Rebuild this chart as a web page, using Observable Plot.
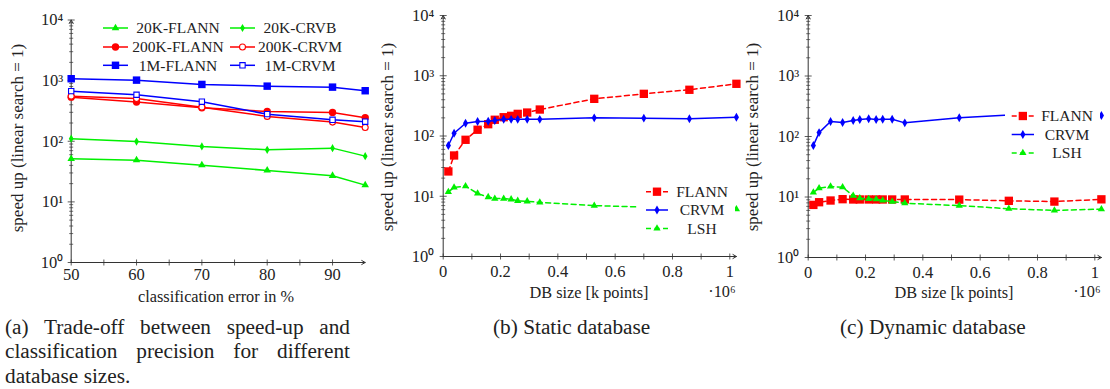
<!DOCTYPE html>
<html><head><meta charset="utf-8">
<script src="https://cdn.jsdelivr.net/npm/d3@7"></script>
<script src="https://cdn.jsdelivr.net/npm/@observablehq/plot@0.6"></script>
<style>
body{margin:0;background:#fff;}
#root{position:relative;width:1110px;height:389px;overflow:hidden;font-family:"Liberation Serif",serif;color:#222;background:#fff;}
#root svg.plot{position:absolute;top:0;}
.ylab{position:absolute;transform:translate(-50%,-50%) rotate(-90deg);font-size:17px;line-height:1;white-space:nowrap;}
.xlab{position:absolute;transform:translate(-50%,-50%);font-size:16.3px;line-height:1;white-space:nowrap;}
.cap{position:absolute;font-size:21.3px;line-height:24.5px;}
.nw{white-space:nowrap;}
.just{text-align:justify;text-align-last:justify;width:345px;}
</style></head><body><div id="root"></div><script>
// ---------- data: panel (a) ----------
const errorPct = [50, 60, 70, 80, 90, 95];
const a20kFlann  = [51.4, 48.8, 40.3, 33, 27, 18.9];
const a20kCrvb   = [110, 99, 82, 72.4, 77, 56.8];
const a200kFlann = [534, 442, 357, 310, 299, 244];
const a200kCrvm  = [555, 508, 365, 257, 207, 169];
const a1mFlann   = [1075, 1019, 865, 811, 781, 681];
const a1mCrvm    = [671, 585, 449, 280, 226, 210];
// ---------- data: panels (b), (c) ----------
const dbSizes = [18e3, 38e3, 78e3, 120e3, 157e3, 180e3, 211e3, 237e3, 260e3, 293e3, 337e3, 527e3, 700e3, 859e3, 1023e3];
const staticFlann = [25.8, 47.5, 86.5, 127, 157, 186, 205, 216, 233, 245, 275, 414, 501, 585, 735];
const staticCrvm  = [69.5, 111, 163, 174, 176, 181, 190, 189, 189, 189, 189, 200, 198, 193, 205];
const staticLsh   = [11.8, 14, 14.7, 11.1, 9.7, 9.15, 9.15, 8.9, 8.4, 8.25, 7.9, 7.0, 6.6, 6.2, 6.1];
const dynFlann = [7.4, 8.2, 8.75, 9.2, 9.1, 9.1, 9.1, 9.1, 9.1, 9.1, 9.1, 9.05, 8.65, 8.4, 9.15];
const dynCrvm  = [71, 116, 177, 170, 184, 191, 196, 191, 193, 193, 168, 204, 226, 220, 222];
const dynLsh   = [11.9, 14, 14.9, 14.5, 10.5, 9.55, 9.3, 9.2, 8.75, 8.4, 7.9, 7.2, 6.4, 6.0, 6.3];
// ---------- ticks ----------
const yMajorTicks = [1, 10, 100, 1000, 10000];
const yTickLabels = ["10⁰", "10¹", "10²", "10³", "10⁴"];
const yMinorTicks = [2,3,4,5,6,7,8,9, 20,30,40,50,60,70,80,90, 200,300,400,500,600,700,800,900, 2000,3000,4000,5000,6000,7000,8000,9000];
const errLabelTicks = [50, 60, 70, 80, 90];
const errLabels = ["50", "60", "70", "80", "90"];
const errAllTicks = [50, 55, 60, 65, 70, 75, 80, 85, 90];
const dbLabelTicks = [0, 2e5, 4e5, 6e5, 8e5, 1e6];
const dbLabels = ["0", "0.2", "0.4", "0.6", "0.8", "1"];
const dbAllTicks = [0, 1e5, 2e5, 3e5, 4e5, 5e5, 6e5, 7e5, 8e5, 9e5, 1e6];
// ---------- texts ----------
const yTitle = "speed up (linear search = 1)";
const xTitleA = "classification error in %";
const xTitleDB = "DB size [k points]";

const GREEN = "#00f000", RED = "#ff0000", BLUE = "#0000ff", AX = "#333";
const DASH = "5,3.5";

const seriesA = [
  {name: "20K-FLANN",  values: a20kFlann,  color: GREEN, symbol: "triangle", r: 2.8},
  {name: "20K-CRVB",   values: a20kCrvb,   color: GREEN, symbol: "diamond",  r: 2.5},
  {name: "200K-FLANN", values: a200kFlann, color: RED,   symbol: "circle",   r: 3.7},
  {name: "200K-CRVM",  values: a200kCrvm,  color: RED,   symbol: "circle",   r: 3.0, open: true},
  {name: "1M-FLANN",   values: a1mFlann,   color: BLUE,  symbol: "square",   r: 4.2},
  {name: "1M-CRVM",    values: a1mCrvm,    color: BLUE,  symbol: "square",   r: 3.0, open: true}
];
const seriesB = [
  {name: "FLANN", values: staticFlann, color: RED,   symbol: "square",   r: 4.7, dash: DASH},
  {name: "CRVM",  values: staticCrvm,  color: BLUE,  symbol: "diamond",  r: 2.7},
  {name: "LSH",   values: staticLsh,   color: GREEN, symbol: "triangle", r: 2.7, dash: DASH}
];
const seriesC = [
  {name: "FLANN", values: dynFlann, color: RED,   symbol: "square",   r: 4.7, dash: DASH},
  {name: "CRVM",  values: dynCrvm,  color: BLUE,  symbol: "diamond",  r: 2.7},
  {name: "LSH",   values: dynLsh,   color: GREEN, symbol: "triangle", r: 2.7, dash: DASH}
];

const hTick = len => ({draw(ctx){ ctx.moveTo(-len, 0); ctx.lineTo(len, 0); }});
const vTick = len => ({draw(ctx){ ctx.moveTo(0, -len); ctx.lineTo(0, len); }});

function makePanel(cfg) {
  const [x0, x1] = cfg.xDomain;
  const marks = [
    Plot.dot(yMinorTicks, {x: () => x0, y: d => d, symbol: hTick(2), fill: "none", stroke: AX, strokeWidth: 0.7}),
    Plot.dot(yMajorTicks, {x: () => x0, y: d => d, symbol: hTick(3.5), fill: "none", stroke: AX, strokeWidth: 0.8}),
    Plot.dot(cfg.xAllTicks, {x: d => d, y: () => 1, symbol: vTick(3), fill: "none", stroke: AX, strokeWidth: 0.8}),
    Plot.arrow([0], {x1: () => x0, y1: () => 1, x2: () => x1, y2: () => 1, stroke: AX, strokeWidth: 1, headLength: 6}),
    Plot.arrow([0], {x1: () => x0, y1: () => 1, x2: () => x0, y2: () => 1e4, stroke: AX, strokeWidth: 1, headLength: 6}),
    Plot.axisY({ticks: yMajorTicks, tickSize: 0, tickPadding: cfg.yPad, tickFormat: d => yTickLabels[yMajorTicks.indexOf(d)], label: null}),
    Plot.axisX({ticks: cfg.xLabelTicks, tickSize: 0, tickPadding: cfg.xPad, tickFormat: d => cfg.xLabels[cfg.xLabelTicks.indexOf(d)], label: null})
  ];
  for (const s of cfg.series) {
    const rows = cfg.x.map((x, i) => ({x, y: s.values[i]}));
    marks.push(Plot.line(rows, {x: "x", y: "y", stroke: s.color, strokeWidth: 1.5, strokeDasharray: s.dash}));
    marks.push(Plot.dot(rows, {x: "x", y: "y", symbol: s.symbol, r: s.r, fill: s.open ? "white" : s.color, stroke: s.color, strokeWidth: s.open ? 1.1 : 0}));
  }
  const svg = Plot.plot({
    width: 370, height: 310,
    marginLeft: cfg.ml, marginRight: cfg.mr, marginTop: cfg.mt, marginBottom: cfg.mb,
    x: {domain: cfg.xDomain},
    y: {type: "log", domain: [1, 1e4]},
    style: {fontFamily: "Liberation Serif, serif", fontSize: "16.5px", color: "#222", overflow: "visible", background: "transparent"},
    marks
  });
  svg.classList.add("plot");
  svg.style.left = cfg.left + "px";
  return svg;
}

const root = document.getElementById("root");
root.appendChild(makePanel({left: 0, x: errorPct, series: seriesA, xDomain: [50, 95], xAllTicks: errAllTicks, xLabelTicks: errLabelTicks, xLabels: errLabels,
  ml: 70.7, mr: 5.3, mt: 19.5, mb: 48, xPad: 6, yPad: 8}));
root.appendChild(makePanel({left: 370, x: dbSizes, series: seriesB, xDomain: [0, d3.max(dbSizes)], xAllTicks: dbAllTicks, xLabelTicks: dbLabelTicks, xLabels: dbLabels,
  ml: 72.7, mr: 4.1, mt: 15, mb: 54, xPad: 9, yPad: 9}));
root.appendChild(makePanel({left: 740, x: dbSizes, series: seriesC, xDomain: [0, d3.max(dbSizes)], xAllTicks: dbAllTicks, xLabelTicks: dbLabelTicks, xLabels: dbLabels,
  ml: 67.7, mr: 9.1, mt: 15, mb: 53, xPad: 9, yPad: 9}));

// ---------- legends ----------
const ov = d3.select(root).append("svg").attr("width", 1110).attr("height", 389)
  .style("position", "absolute").style("left", 0).style("top", 0).style("overflow", "visible")
  .style("font-family", "Liberation Serif, serif").style("font-size", "15.5px");
const symMap = {triangle: d3.symbolTriangle, diamond: d3.symbolDiamond, square: d3.symbolSquare, circle: d3.symbolCircle};
function legendEntry(s, lx1, lx2, tx, y) {
  ov.append("line").attr("x1", lx1).attr("x2", lx2).attr("y1", y).attr("y2", y)
    .attr("stroke", s.color).attr("stroke-width", 1.5).attr("stroke-dasharray", s.dash || null);
  ov.append("path").attr("transform", `translate(${(lx1 + lx2) / 2},${y})`)
    .attr("d", d3.symbol(symMap[s.symbol], Math.PI * s.r * s.r)())
    .attr("fill", s.open ? "white" : s.color).attr("stroke", s.color).attr("stroke-width", s.open ? 1.1 : 0);
  ov.append("text").attr("x", tx).attr("y", y).attr("dy", "0.35em").attr("text-anchor", "middle").attr("fill", "#222").text(s.name);
}
const rowsA = [28, 47, 65.3];
seriesA.forEach((s, i) => {
  const col = i % 2, row = Math.floor(i / 2);
  if (col === 0) legendEntry(s, 103, 128, 178, rowsA[row]);
  else legendEntry(s, 230, 255, 300, rowsA[row]);
});
ov.append("rect").attr("x", 638).attr("y", 181).attr("width", 97).attr("height", 58).attr("fill", "white");
[191.7, 210, 228.5].forEach((y, i) => legendEntry(seriesB[i], 646, 668, 702, y));
ov.append("rect").attr("x", 1005).attr("y", 106).attr("width", 95).attr("height", 57).attr("fill", "white");
[116, 134.5, 153].forEach((y, i) => legendEntry(seriesC[i], 1011.7, 1034, 1067, y));

// ---------- axis titles & captions ----------
function addDiv(cls, html, left, top) {
  const d = document.createElement("div");
  d.className = cls; d.innerHTML = html;
  d.style.left = left + "px"; d.style.top = top + "px";
  root.appendChild(d);
}
addDiv("ylab", yTitle, 16.7, 138);
addDiv("ylab", yTitle, 386.7, 137);
addDiv("ylab", yTitle, 751.7, 137);
addDiv("xlab", xTitleA, 216, 297);
addDiv("xlab", xTitleDB, 589, 293);
addDiv("xlab", xTitleDB, 954, 293);
addDiv("xlab", "·10⁶", 722, 292);
addDiv("xlab", "·10⁶", 1087, 292);
addDiv("cap just", "(a) Trade-off between speed-up and", 5, 314.75);
addDiv("cap just", "classification precision for different", 5, 339.25);
addDiv("cap nw", "database sizes.", 5, 363.75);
addDiv("cap nw", "(b) Static database", 493, 314.75);
addDiv("cap nw", "(c) Dynamic database", 840, 314.75);
</script></body></html>
